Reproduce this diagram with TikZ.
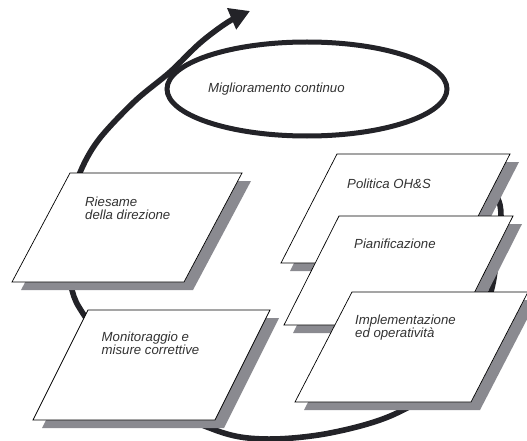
\documentclass[tikz,border=0pt]{standalone}
\usepackage{fontspec}
\setmainfont{Liberation Sans}
\usetikzlibrary{arrows.meta}
\definecolor{shadowgray}{RGB}{138,138,144}
\definecolor{ink}{RGB}{35,35,40}
\begin{document}
\begin{tikzpicture}[x=1pt,y=-1pt,
  slab/.style={draw=black, line width=0.7pt, fill=white, line join=miter},
  slabshade/.style={fill=shadowgray, draw=none},
  lbl/.style={anchor=north west, align=left, inner sep=0pt,
    font=\fontsize{13.2}{13.5}\selectfont\itshape, text=black!80},
  loopline/.style={draw=ink, line width=5.6pt},
]
\useasboundingbox (0,0) rectangle (527,441);

% improvement ellipse
\draw[draw=ink, line width=5pt] (307,89) ellipse [x radius=140, y radius=47];
\node[lbl] (mig) at (208,82.5) {Miglioramento continuo};

% big loop with arrow
\draw[loopline, -{Triangle[length=20pt,width=22pt]}]
  plot[smooth, tension=0.55] coordinates {
    (478,163) (500,205) (497,250) (490,295) (460,370) (397,413)
    (330,433) (265,439) (215,430) (140,392) (86,318) (72,290)
    (67,250) (72,200) (82,168) (100,138) (135,101) (170,72)
    (200,43) (228,22) (250,11)};

% Riesame della direzione
\fill[slabshade, shift={(9,8)}] (70,173) -- (242,173) -- (184,282) -- (12,282) -- cycle;
\draw[slab] (70,173) coordinate (r1) -- (242,173) -- (184,282) -- (12,282) -- cycle;
\node[lbl] (ries) at (85,196.5) {Riesame\\della direzione};

% Monitoraggio
\fill[slabshade, shift={(9,8)}] (88,310) -- (270,310) -- (215,420) -- (33,420) -- cycle;
\draw[slab] (88,310) coordinate (m1) -- (270,310) -- (215,420) -- (33,420) -- cycle;
\node[lbl] (moni) at (101.5,331.5) {Monitoraggio e\\misure correttive};

% Politica
\fill[slabshade, shift={(9,8)}] (337,154) -- (510,154) -- (454,263) -- (281,263) -- cycle;
\draw[slab] (337,154) coordinate (p1) -- (510,154) -- (454,263) -- (281,263) -- cycle;
\node[lbl] (poli) at (347,178.5) {Politica OH\&S};

% Pianificazione
\fill[slabshade, shift={(9,8)}] (339,216) -- (513,216) -- (458,325) -- (284,325) -- cycle;
\draw[slab] (339,216) coordinate (q1) -- (513,216) -- (458,325) -- (284,325) -- cycle;
\node[lbl] (pian) at (354,238.5) {Pianificazione};

% Implementazione
\fill[slabshade, shift={(9,8)}] (352,292) -- (528,292) -- (471,402) -- (295,402) -- cycle;
\draw[slab] (352,292) coordinate (i1) -- (528,292) -- (471,402) -- (295,402) -- cycle;
\node[lbl] (impl) at (355,314.5) {Implementazione\\ed operatività};
\end{tikzpicture}
\end{document}
